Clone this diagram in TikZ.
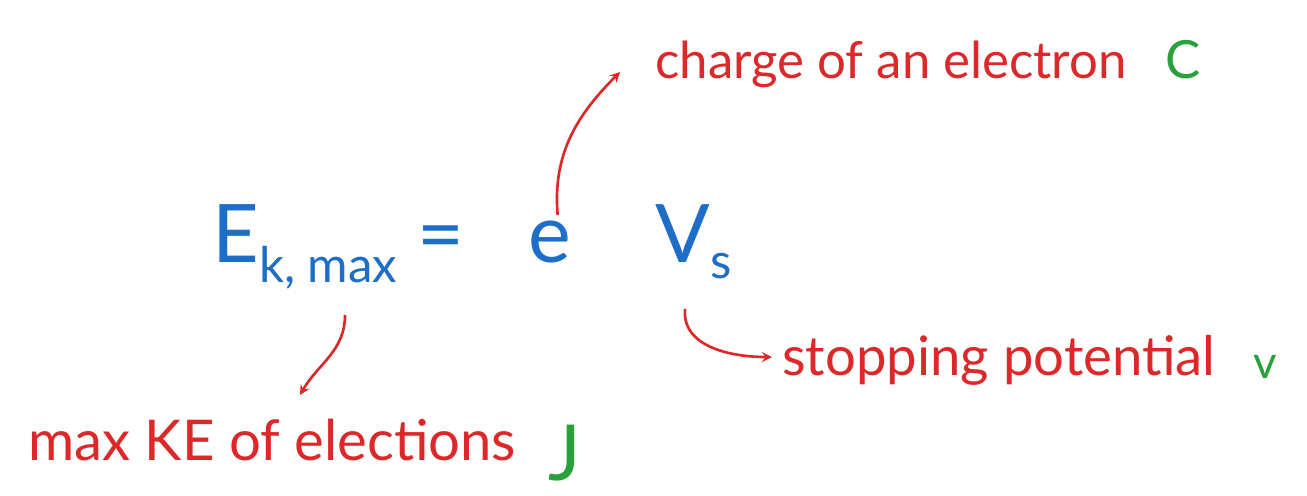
\documentclass[tikz,border=0pt]{standalone}
\usepackage{fontspec}
\setmainfont{Lato}
\usetikzlibrary{positioning}
\definecolor{inkblue}{RGB}{30,110,200}
\definecolor{inkred}{RGB}{220,40,40}
\definecolor{inkgreen}{RGB}{40,160,60}
\begin{document}
\begin{tikzpicture}[x=0.02cm,y=-0.02cm,
  eqtext/.style={text=inkblue, font=\fontsize{46}{50}\selectfont, inner sep=0pt},
  note/.style={text=inkred, inner sep=0pt, anchor=base west},
  unit/.style={text=inkgreen, font=\fontsize{30}{34}\selectfont, inner sep=0pt, anchor=base west},
  pointer/.style={inkred, line width=1.5pt, ->, >=stealth}]
 	\useasboundingbox (0,0) rectangle (1307,495);
 	
 	% The equation
 	\node[eqtext, anchor=base west] (ek) at (212,262) {E\raisebox{-0.25em}{\fontsize{28}{30}\selectfont k, max} =};
 	\node[eqtext, anchor=base west] (e) at (528,262) {e};
 	\node[eqtext, anchor=base west] (vs) at (655,262) {V\raisebox{-0.2em}{\fontsize{28}{30}\selectfont s}};
 	
 	% Labels
 	\node[note, font=\fontsize{29}{32}\selectfont] (charge) at (655,78) {charge of an electron};
 	\node[unit] (cunit) at (1165,78) {C};
 	\node[note, font=\fontsize{31}{34}\selectfont] (stop) at (782,375) {stopping potential};
 	\node[unit, font=\fontsize{26}{30}\selectfont] (vunit) at (1253,378) {v};
 	\node[note, font=\fontsize{32}{35}\selectfont] (maxke) at (28,460) {max KE of elections};
 	\node[unit, font=\fontsize{44}{48}\selectfont] (junit) at (548,480) {J};
 	
 	% Pointers
 	\draw[pointer] (e.north) ++(8,-5) to[out=95, in=-135] (620,72);
 	\draw[pointer] (vs.south west) ++(30,30) to[out=-95, in=180] (772,357);
 	\draw[pointer] (345,315) to[out=-90, in=60] (300,395);
\end{tikzpicture}
\end{document}
